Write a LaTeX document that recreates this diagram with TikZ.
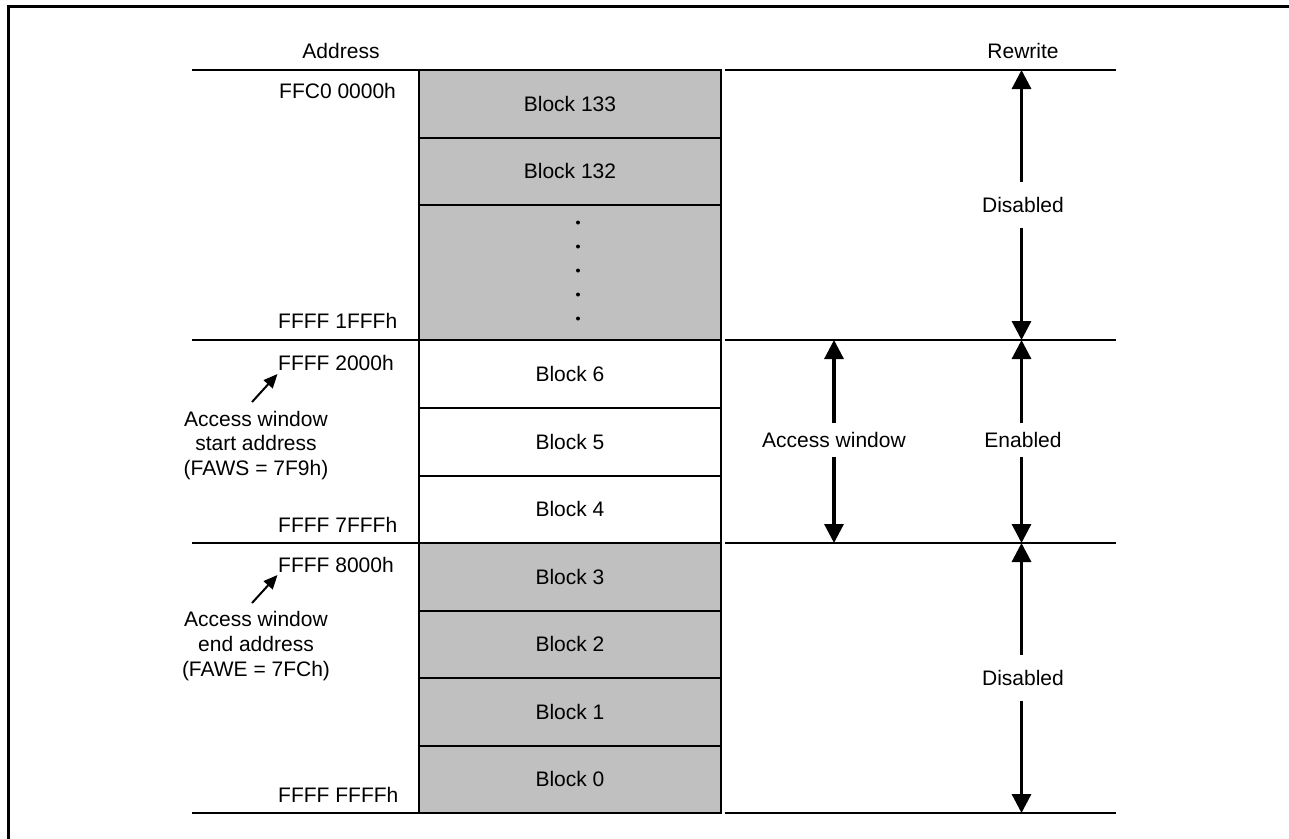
\documentclass[tikz,border=0pt]{standalone}
\usepackage{fontspec}
\setmainfont{Liberation Sans}
\usetikzlibrary{arrows.meta}
\definecolor{blkgray}{RGB}{192,192,192}
\begin{document}
\begin{tikzpicture}[x=1pt,y=-1pt,
 txt/.style={font=\fontsize{21}{25}\selectfont, inner sep=0pt},
 blkbox/.style={draw, line width=2pt, minimum width=302pt, inner sep=0pt, txt},
 grayblk/.style={blkbox, fill=blkgray},
 whiteblk/.style={blkbox, fill=white},
 hline/.style={line width=2pt},
 framel/.style={line width=3pt},
 bigarr/.style={line width=3.2pt, -{Triangle[length=19pt,width=19pt]}},
 smallarr/.style={line width=2pt, -{Triangle[length=14pt,width=12pt]}},
 addr/.style={txt, anchor=base west},
 note/.style={txt, anchor=base},
 lbl/.style={txt, minimum height=33pt},
 dotmark/.style={fill=black, circle, inner sep=0pt, minimum size=4pt}
]
\useasboundingbox (0,0) rectangle (1289,838);
% frame
\draw[framel] (8.5,840) -- (8.5,6.5) -- (1290,6.5);

% blocks
\node[grayblk, minimum height=67.5pt] (b133) at (570,103.75) {Block 133};
\node[grayblk, minimum height=67.5pt] (b132) at (570,171.25) {Block 132};
\node[grayblk, minimum height=135pt] (bdots) at (570,272.5) {};
\foreach \i/\yy in {1/222.5,2/246.5,3/270.5,4/294.5,5/318.5}
  \node[dotmark] (dot\i) at (578,\yy) {};
\node[whiteblk, minimum height=68pt] (b6) at (570,374) {Block 6};
\node[whiteblk, minimum height=67.5pt] (b5) at (570,441.75) {Block 5};
\node[whiteblk, minimum height=67.5pt] (b4) at (570,509.25) {Block 4};
\node[grayblk, minimum height=67.5pt] (b3) at (570,576.75) {Block 3};
\node[grayblk, minimum height=67.5pt] (b2) at (570,644.25) {Block 2};
\node[grayblk, minimum height=67.5pt] (b1) at (570,711.75) {Block 1};
\node[grayblk, minimum height=67.5pt] (b0) at (570,779.25) {Block 0};

% horizontal lines
\foreach \yy in {70,340,543,813}{
  \draw[hline] (192,\yy) -- (419,\yy);
  \draw[hline] (725,\yy) -- (1116,\yy);
}

% headings
\node[note] (haddr) at (341,58.5) {Address};
\node[note] (hrew) at (1023,58.5) {Rewrite};

% addresses
\node[addr] (aFFC0) at (279,98) {FFC0 0000h};
\node[addr] (a1FFF) at (278,328) {FFFF 1FFFh};
\node[addr] (a2000) at (278,370) {FFFF 2000h};
\node[addr] (a7FFF) at (278,532) {FFFF 7FFFh};
\node[addr] (a8000) at (278,572) {FFFF 8000h};
\node[addr] (aFFFF) at (278,802) {FFFF FFFFh};

% notes
\node[note] (ws1) at (256,426) {Access window};
\node[note] (ws2) at (256,450.5) {start address};
\node[note] (ws3) at (256,475) {(FAWS = 7F9h)};
\node[note] (we1) at (256,626) {Access window};
\node[note] (we2) at (256,651) {end address};
\node[note] (we3) at (256,676) {(FAWE = 7FCh)};

\coordinate (t1) at (252,402);
\coordinate (p1) at (277.5,374);
\coordinate (t2) at (252,603);
\coordinate (p2) at (277.5,575);
\draw[smallarr] (t1) -- (p1);
\draw[smallarr] (t2) -- (p2);

% access window arrow
\coordinate (aw0) at (834,340);
\coordinate (aw1) at (834,543);
\node[lbl] (awl) at (834,440) {Access window};
\draw[bigarr] (awl) -- (aw0);
\draw[bigarr] (awl) -- (aw1);

% rewrite arrows
\coordinate (r0) at (1021.5,70);
\coordinate (r1) at (1021.5,340);
\coordinate (r2) at (1021.5,543);
\coordinate (r3) at (1021.5,813);
\node[lbl, minimum height=46pt] (dis1) at (1023,205) {Disabled};
\node[lbl] (ena) at (1023,440) {Enabled};
\node[lbl, minimum height=46pt] (dis2) at (1023,678) {Disabled};
\draw[bigarr] (dis1.north -| r0) -- (r0);
\draw[bigarr] (dis1.south -| r0) -- (r1);
\draw[bigarr] (ena.north -| r1) -- (r1);
\draw[bigarr] (ena.south -| r1) -- (r2);
\draw[bigarr] (dis2.north -| r2) -- (r2);
\draw[bigarr] (dis2.south -| r2) -- (r3);
\end{tikzpicture}
\end{document}
